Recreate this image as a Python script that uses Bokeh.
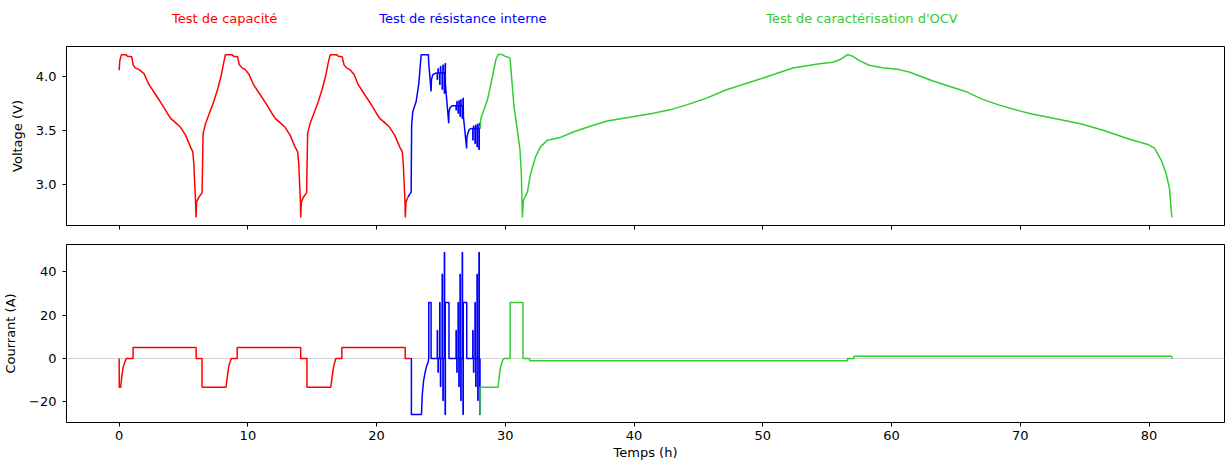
from bokeh.plotting import figure
from bokeh.layouts import column
from bokeh.models import Range1d, FixedTicker, Span, ColumnDataSource, PrintfTickFormatter
from bokeh.core.properties import value
from bokeh.embed import file_html
from bokeh.resources import INLINE

# ---------------- data ----------------
phase_titles = ["Test de capacité", "Test de résistance interne", "Test de caractérisation d'OCV"]
phase_colors = ["#ff0000", "#0000ff", "#32cd32"]
title_x = [8.2, 26.7, 57.7]

x_ticks = [0, 10, 20, 30, 40, 50, 60, 70, 80]
v_ticks = [3.0, 3.5, 4.0]
i_ticks = [-20, 0, 20, 40]

# capacity test (red) - voltage
cap_t_v = [0.0, 0.05, 0.18, 0.52, 0.64, 0.98, 1.08, 1.24, 1.55, 1.93,
           2.32, 2.84, 3.35, 3.74, 4.0, 4.38, 4.77, 5.16, 5.54, 5.72,
           5.8, 5.88, 5.93, 5.98, 6.01, 6.19, 6.44, 6.52, 6.7, 6.96,
           7.35, 7.68, 7.94, 8.12, 8.25,
           8.76, 8.89, 9.2, 9.33, 9.54, 9.8, 10.1, 10.44, 10.96, 11.47,
           11.86, 12.12, 12.5, 12.89, 13.28, 13.66, 13.87, 13.95, 14.03, 14.08,
           14.1, 14.15, 14.31, 14.56, 14.64, 14.82, 15.08, 15.47, 15.8, 16.06,
           16.24, 16.4,
           16.89, 17.02, 17.33, 17.46, 17.66, 17.92, 18.26, 18.57, 19.08, 19.6,
           19.98, 20.24, 20.63, 21.01, 21.4, 21.79, 21.99, 22.07, 22.15, 22.2,
           22.23, 22.28, 22.43]
cap_v = [4.056, 4.145, 4.2, 4.2, 4.186, 4.18, 4.108, 4.078, 4.062, 4.025,
         3.923, 3.83, 3.737, 3.66, 3.613, 3.573, 3.53, 3.458, 3.35, 3.304,
         3.195, 2.98, 2.855, 2.7, 2.84, 2.886, 2.926, 3.474, 3.56, 3.644,
         3.768, 3.892, 4.015, 4.124, 4.2,
         4.2, 4.186, 4.18, 4.108, 4.078, 4.062, 4.015, 3.923, 3.83, 3.737,
         3.66, 3.613, 3.573, 3.53, 3.458, 3.35, 3.304, 3.195, 2.98, 2.855,
         2.7, 2.84, 2.886, 2.926, 3.474, 3.56, 3.644, 3.768, 3.892, 4.015,
         4.124, 4.2,
         4.2, 4.186, 4.18, 4.108, 4.078, 4.062, 4.015, 3.923, 3.83, 3.737,
         3.66, 3.613, 3.573, 3.53, 3.458, 3.35, 3.304, 3.195, 2.98, 2.855,
         2.7, 2.84, 2.886]

# capacity test (red) - current
cap_t_i = [0.0, 0.01, 0.12, 0.2, 0.31, 0.44, 0.56, 1.08, 1.08, 5.98,
           5.98, 6.44, 6.44, 8.3, 8.4, 8.5, 8.61, 8.71, 9.17, 9.17,
           14.1, 14.1, 14.59, 14.59, 16.44, 16.54, 16.65, 16.75, 16.83, 17.3,
           17.3, 22.22, 22.22, 22.65]
cap_i = [0, -13.3, -13.3, -8.6, -4.0, -1.7, 0, 0, 5.1, 5.1,
         0, 0, -13.3, -13.3, -8.6, -4.0, -1.7, 0, 0, 5.1,
         5.1, 0, 0, -13.3, -13.3, -8.6, -4.0, -1.7, 0, 0,
         5.1, 5.1, 0, 0]

# internal resistance test (blue) - voltage, continuous parts
res_pre_t_v = [22.43, 22.68, 22.72, 22.81, 23.07, 23.28, 23.46, 24.02, 24.05, 24.23, 24.26, 24.36, 24.6]
res_pre_v = [2.886, 2.932, 3.551, 3.675, 3.768, 3.938, 4.2, 4.2, 4.12, 3.86, 3.97, 4.015, 4.03]
res_step1_t_v = [25.33, 25.34, 25.6, 25.62, 25.7, 25.85, 26.1]
res_step1_v = [4.03, 3.93, 3.567, 3.67, 3.71, 3.728, 3.728]
res_step2_t_v = [26.73, 26.74, 26.99, 27.01, 27.1, 27.2, 27.4]
res_step2_v = [3.728, 3.63, 3.335, 3.44, 3.48, 3.511, 3.52]

# pulse trains (three SOC levels, four pulse amplitudes each)
pulse_t_g1 = [24.71, 24.90, 25.09, 25.26]
pulse_t_g2 = [26.17, 26.33, 26.48, 26.65]
pulse_t_g3 = [27.47, 27.64, 27.80, 27.95]
pulse_base_v = [4.03, 3.728, 3.52]
pulse_drop_v_g1 = [3.97, 3.925, 3.88, 3.845]
pulse_rise_v_g1 = [4.07, 4.09, 4.105, 4.118]
pulse_drop_v_g2 = [3.69, 3.66, 3.629, 3.613]
pulse_rise_v_g2 = [3.768, 3.774, 3.783, 3.799]
pulse_drop_v_g3 = [3.412, 3.381, 3.35, 3.326]
pulse_rise_v_g3 = [3.542, 3.551, 3.561, 3.567]
pulse_dis_a = [12.9, 25.9, 38.9, 49.0]
pulse_chg_a = [-6.4, -13.0, -19.4, -25.9]

# internal resistance test (blue) - current, continuous parts
res_pre_t_i = [22.65, 22.7, 22.7, 23.48, 23.55, 23.65, 23.77, 23.9, 24.0, 24.05, 24.05, 24.23, 24.23, 24.6]
res_pre_i = [0, 0, -25.9, -25.9, -16.4, -10.2, -6.3, -3.2, -1.7, 0, 25.9, 25.9, 0, 0]
res_step1_t_i = [25.33, 25.33, 25.62, 25.62, 26.1]
res_step1_i = [0, 25.9, 25.9, 0, 0]
res_step2_t_i = [26.73, 26.73, 27.0, 27.0, 27.4]
res_step2_i = [0, 25.9, 25.9, 0, 0]

# OCV characterisation (green) - voltage
ocv_t_v = [28.03, 28.1, 28.61, 29.0, 29.26, 29.44, 29.77, 29.95, 30.36, 30.67,
           30.93, 31.14, 31.24, 31.32, 31.4, 31.71, 31.96, 32.35, 32.73, 33.25,
           34.28, 35.32, 36.35, 37.89, 39.44, 41.5, 42.79, 44.08, 45.63, 47.17,
           49.24, 50.78, 52.33, 54.39, 55.42, 56.1, 56.58, 56.97, 57.49, 58.26,
           59.29, 60.58, 61.36, 63.16, 63.93, 65.74, 67.02, 68.31, 69.86, 70.89,
           72.95, 74.76, 76.56, 78.36, 79.91, 80.43, 80.95, 81.33, 81.59, 81.77]
ocv_v = [3.52, 3.613, 3.783, 4.0, 4.155, 4.201, 4.201, 4.186, 4.17, 3.721,
         3.505, 3.319, 3.103, 2.70, 2.855, 2.932, 3.103, 3.26, 3.35, 3.41,
         3.437, 3.489, 3.53, 3.588, 3.619, 3.66, 3.691, 3.737, 3.799, 3.876,
         3.954, 4.015, 4.077, 4.115, 4.13, 4.16, 4.201, 4.186, 4.145, 4.102,
         4.08, 4.062, 4.04, 3.96, 3.929, 3.861, 3.79, 3.737, 3.684, 3.653,
         3.604, 3.561, 3.499, 3.424, 3.372, 3.335, 3.226, 3.102, 2.963, 2.70]

# OCV characterisation (green) - current
ocv_t_i = [28.03, 28.03, 29.44, 29.5, 29.58, 29.68, 29.78, 29.9, 30.37, 30.37,
           31.37, 31.37, 31.89, 31.89, 56.58, 56.58, 57.08, 57.08, 81.77, 81.77]
ocv_i = [-25.9, -13.3, -13.3, -9.5, -5.5, -2.8, -1.0, 0, 0, 25.9,
         25.9, 0, 0, -1.07, -1.07, 0, 0, 1.08, 1.08, 0]


def pulse_train(times, base, first, second, width=0.02, gap=0.04):
    """Build the vertices of a train of short pulses from read-off levels."""
    xs, ys = [], []
    for t, a, b in zip(times, first, second):
        t1 = t + width
        t2 = t1 + gap
        t3 = t2 + width
        xs += [t, t, t1, t1, t2, t2, t3, t3]
        ys += [base, a, a, base, base, b, b, base]
    return xs, ys


def concat(*parts):
    xs, ys = [], []
    for px, py in parts:
        xs += list(px)
        ys += list(py)
    return xs, ys


res_t_v, res_v = concat(
    (res_pre_t_v, res_pre_v),
    pulse_train(pulse_t_g1, pulse_base_v[0], pulse_drop_v_g1, pulse_rise_v_g1),
    (res_step1_t_v, res_step1_v),
    pulse_train(pulse_t_g2, pulse_base_v[1], pulse_drop_v_g2, pulse_rise_v_g2),
    (res_step2_t_v, res_step2_v),
    pulse_train(pulse_t_g3, pulse_base_v[2], pulse_drop_v_g3, pulse_rise_v_g3),
)
res_t_i, res_i = concat(
    (res_pre_t_i, res_pre_i),
    pulse_train(pulse_t_g1, 0, pulse_dis_a, pulse_chg_a),
    (res_step1_t_i, res_step1_i),
    pulse_train(pulse_t_g2, 0, pulse_dis_a, pulse_chg_a),
    (res_step2_t_i, res_step2_i),
    pulse_train(pulse_t_g3, 0, pulse_dis_a, pulse_chg_a),
)

# ---------------- layout / style ----------------
FONT = "DejaVu Sans"
FS = "13px"
W = 1225
LEFT = 63
RIGHT = 1
LW = 1.5

x_range = Range1d(-4.09, 85.86)


def style_axes(p):
    p.grid.visible = False
    p.outline_line_color = "black"
    p.outline_line_width = 1
    for ax in p.axis:
        ax.axis_line_color = "black"
        ax.major_tick_line_color = "black"
        ax.major_tick_out = 4
        ax.major_tick_in = 0
        ax.minor_tick_line_color = None
        ax.major_label_text_font = FONT
        ax.major_label_text_font_size = FS
        ax.major_label_text_color = "black"
        ax.axis_label_text_font = FONT
        ax.axis_label_text_font_size = FS
        ax.axis_label_text_font_style = "normal"
        ax.axis_label_text_color = "black"


# titles strip
fig_t = figure(width=W, height=45, x_range=x_range, y_range=Range1d(0, 45),
               output_backend="svg", toolbar_location=None,
               x_axis_location=None, y_axis_location=None,
               min_border_left=LEFT, min_border_right=RIGHT,
               min_border_top=0, min_border_bottom=0)
fig_t.outline_line_color = None
fig_t.grid.visible = False
tsrc = ColumnDataSource(dict(x=title_x, y=[27] * 3, text=phase_titles, color=phase_colors))
fig_t.text(x="x", y="y", text="text", text_color="color", source=tsrc,
           text_align="center", text_baseline="middle",
           text_font=value(FONT), text_font_size=FS)

# voltage
fig_v = figure(width=W, height=198, x_range=x_range, y_range=Range1d(2.625, 4.275),
               output_backend="svg", toolbar_location=None,
               min_border_left=LEFT, min_border_right=RIGHT,
               min_border_top=1, min_border_bottom=18)
fig_v.line(cap_t_v, cap_v, line_color=phase_colors[0], line_width=LW)
fig_v.line(res_t_v, res_v, line_color=phase_colors[1], line_width=LW)
fig_v.line(ocv_t_v, ocv_v, line_color=phase_colors[2], line_width=LW)
style_axes(fig_v)
fig_v.xaxis.ticker = FixedTicker(ticks=x_ticks)
fig_v.xaxis.major_label_text_font_size = "1px"
fig_v.xaxis.major_label_text_color = None
fig_v.xaxis.major_label_standoff = 0
fig_v.yaxis.ticker = FixedTicker(ticks=v_ticks)
fig_v.yaxis.formatter = PrintfTickFormatter(format="%.1f")
fig_v.yaxis.axis_label = "Voltage (V)"
fig_v.yaxis.major_label_standoff = 6
fig_v.yaxis.axis_label_standoff = 8

# current
fig_c = figure(width=W, height=221, x_range=x_range, y_range=Range1d(-29.6, 52.7),
               output_backend="svg", toolbar_location=None,
               min_border_left=LEFT, min_border_right=RIGHT,
               min_border_top=1, min_border_bottom=42)
fig_c.add_layout(Span(location=0, dimension="width", line_color="#d3d3d3",
                      line_width=1, level="underlay"))
fig_c.line(cap_t_i, cap_i, line_color=phase_colors[0], line_width=LW)
fig_c.line(res_t_i, res_i, line_color=phase_colors[1], line_width=LW)
fig_c.line(ocv_t_i, ocv_i, line_color=phase_colors[2], line_width=LW)
style_axes(fig_c)
fig_c.xaxis.ticker = FixedTicker(ticks=x_ticks)
fig_c.xaxis.axis_label = "Temps (h)"
fig_c.xaxis.major_label_standoff = 4
fig_c.xaxis.axis_label_standoff = 2
fig_c.yaxis.ticker = FixedTicker(ticks=i_ticks)
fig_c.yaxis.major_label_overrides = {-20: "\u221220"}
fig_c.yaxis.axis_label = "Courrant (A)"
fig_c.yaxis.major_label_standoff = 6
fig_c.yaxis.axis_label_standoff = 8

layout = column(fig_t, fig_v, fig_c, spacing=0)

open("out.html", "w").write(file_html(layout, INLINE))
